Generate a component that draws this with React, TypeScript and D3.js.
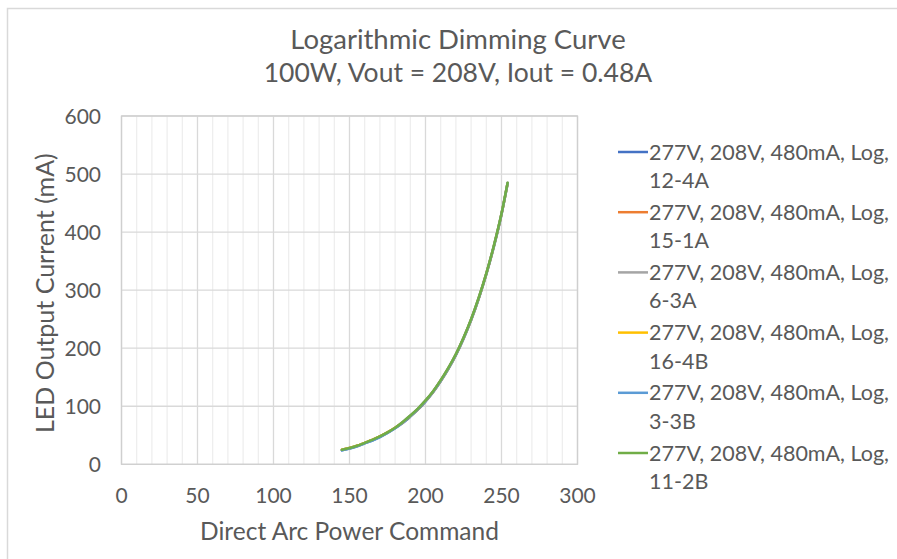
import { useMemo } from 'react';
import { scaleLinear, line, curveMonotoneX, range } from 'd3';

// Direct arc power command levels that were sampled
const commands = [145, 150, 155, 160, 165, 170, 175, 180, 185, 190, 195, 200, 205, 210, 215, 220, 225, 230, 235, 240, 245, 250, 254];

// LED output current (mA) per unit
const unit12_4A = [24, 27, 31, 36, 41, 47, 54, 62, 71, 82, 94, 108, 124, 143, 164, 188, 216, 248, 285, 327, 375, 430, 483];
const unit15_1A = [25, 28, 32, 37, 42, 48, 55, 63, 72, 83, 95, 109, 125, 144, 165, 189, 217, 249, 286, 328, 376, 431, 484];
const unit6_3A = [25, 28, 32, 37, 42, 48, 55, 63, 73, 84, 96, 110, 126, 145, 166, 190, 218, 250, 287, 329, 377, 432, 485];
const unit16_4B = [25, 28, 32, 37, 42, 48, 55, 63, 72, 83, 95, 109, 125, 144, 165, 189, 217, 249, 286, 328, 376, 431, 484];
const unit3_3B = [24, 27, 31, 36, 41, 47, 54, 62, 72, 83, 95, 109, 125, 144, 165, 189, 217, 249, 286, 328, 376, 431, 484];
const unit11_2B = [25, 28, 32, 37, 42, 48, 55, 63, 73, 84, 96, 110, 126, 145, 166, 190, 218, 250, 287, 329, 377, 432, 485];

const seriesNames = ['12-4A', '15-1A', '6-3A', '16-4B', '3-3B', '11-2B'];
const seriesValues = [unit12_4A, unit15_1A, unit6_3A, unit16_4B, unit3_3B, unit11_2B];
const seriesColors = ['#4472C4', '#ED7D31', '#A5A5A5', '#FFC000', '#5B9BD5', '#70AD47'];

const xTicks = [0, 50, 100, 150, 200, 250, 300];
const yTicks = [0, 100, 200, 300, 400, 500, 600];

const FONT = 'Lato, "Open Sans", sans-serif';
const TEXT = '#595959';

const App = () => {
  const width = 897;
  const height = 559;
  const plot = { left: 121.5, right: 577.5, top: 116, bottom: 464.3 };

  const x = useMemo(() => scaleLinear().domain([0, 300]).range([plot.left, plot.right]), []);
  const y = useMemo(() => scaleLinear().domain([0, 600]).range([plot.bottom, plot.top]), []);

  const path = line<[number, number]>()
    .x((d) => x(d[0]))
    .y((d) => y(d[1]))
    .curve(curveMonotoneX);

  const minorTicks = range(0, 301, 10).filter((v) => v % 50 !== 0);

  return (
    <svg
      width={width}
      height={height}
      style={{ position: 'absolute', left: 0, top: 0, background: '#fff' }}
      fontFamily={FONT}
    >
      <rect x={7.5} y={8.5} width={width} height={height} fill="#fff" stroke="#D9D9D9" strokeWidth={1.5} />

      <text x={458} y={49} textAnchor="middle" fontSize={27.5} fill={TEXT}>
        Logarithmic Dimming Curve
      </text>
      <text x={458} y={82} textAnchor="middle" fontSize={26.5} fill={TEXT}>
        100W, Vout = 208V, Iout = 0.48A
      </text>

      {minorTicks.map((t) => (
        <line key={'m' + t} x1={x(t)} x2={x(t)} y1={plot.top} y2={plot.bottom} stroke="#EDEDED" strokeWidth={1.2} />
      ))}
      {xTicks.map((t) => (
        <line key={'x' + t} x1={x(t)} x2={x(t)} y1={plot.top} y2={plot.bottom} stroke="#D9D9D9" strokeWidth={1.3} />
      ))}
      {yTicks.map((t) => (
        <line key={'y' + t} x1={plot.left} x2={plot.right} y1={y(t)} y2={y(t)} stroke="#D9D9D9" strokeWidth={1.3} />
      ))}
      <rect
        x={plot.left}
        y={plot.top}
        width={plot.right - plot.left}
        height={plot.bottom - plot.top}
        fill="none"
        stroke="#CFCFCF"
        strokeWidth={1.3}
      />

      {xTicks.map((t) => (
        <text key={'xl' + t} x={x(t)} y={503} textAnchor="middle" fontSize={21} fill={TEXT}>
          {t}
        </text>
      ))}
      {yTicks.map((t) => (
        <text key={'yl' + t} x={101} y={y(t) + 7.5} textAnchor="end" fontSize={21} fill={TEXT}>
          {t}
        </text>
      ))}

      <text x={(plot.left + plot.right) / 2} y={540} textAnchor="middle" fontSize={24.5} fill={TEXT}>
        Direct Arc Power Command
      </text>
      <text
        transform={`translate(54,${(plot.top + plot.bottom) / 2 + 3}) rotate(-90)`}
        textAnchor="middle"
        fontSize={25}
        fill={TEXT}
      >
        LED Output Current (mA)
      </text>

      {seriesValues.map((vals, i) => (
        <path
          key={seriesNames[i]}
          d={path(commands.map((c, j) => [c, vals[j]] as [number, number])) || ''}
          fill="none"
          stroke={seriesColors[i]}
          strokeWidth={2.5}
          strokeLinecap="round"
        />
      ))}

      {seriesNames.map((name, i) => {
        const ly = 152 + i * 60.2;
        return (
          <g key={'lg' + name}>
            <line x1={618} x2={648} y1={ly} y2={ly} stroke={seriesColors[i]} strokeWidth={2.5} />
            <text x={649} y={ly + 7.5} fontSize={21.5} fill={TEXT}>
              277V, 208V, 480mA, Log,
            </text>
            <text x={649} y={ly + 36} fontSize={21.5} fill={TEXT}>
              {name}
            </text>
          </g>
        );
      })}
    </svg>
  );
};

export default App;
